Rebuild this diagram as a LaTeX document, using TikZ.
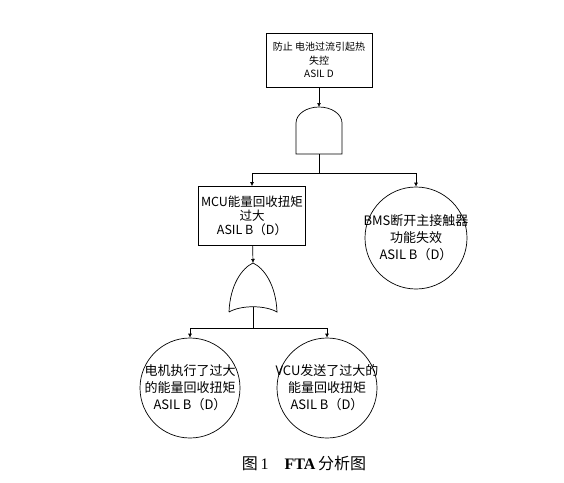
\documentclass[tikz,border=0pt]{standalone}
\usepackage{fontspec}
\setmainfont{Liberation Serif}
\newfontfamily\cjk{Noto Sans CJK SC}
\usetikzlibrary{positioning,arrows.meta}

\begin{document}
\begin{tikzpicture}[
x=1pt, y=-1pt, line width=0.7pt,
font=\cjk\fontsize{13}{17}\selectfont,
box/.style={draw, align=center, inner sep=2pt},
event/.style={draw, circle, minimum size=100pt, inner sep=0pt},
evtext/.style={align=center, inner sep=0pt},
arrow/.style={-{Latex[length=4pt,width=4pt]}}
]
\useasboundingbox (0,0) rectangle (564,482);
% top event
\node[box, minimum width=106pt, minimum height=54pt, font=\cjk\fontsize{10}{13.5}\selectfont] (top) at (319,60) {防止 电池过流引起热\\失控\\ASIL D};
% AND gate
\coordinate (andin) at (319,107);
\coordinate (andout) at (319,154);
\draw (296,154) -- (296,123) arc[start angle=180, end angle=360, x radius=23, y radius=16] -- (342,154) -- cycle;
% second level
\node[box, minimum width=107pt, minimum height=59pt, font=\cjk\fontsize{12.5}{14}\selectfont] (mcu) at (252,216) {MCU能量回收扭矩\\过大\\ASIL B（D）};
\node[event, minimum size=102pt, label={[evtext]center:BMS断开主接触器\\功能失效\\ASIL B（D）}] (bms) at (416,238) {};
% OR gate
\coordinate (orin) at (253,263);
\coordinate (orout) at (253,307);
\draw (229,312) .. controls (230,285) and (242,268) .. (orin) .. controls (264,268) and (276,285) .. (277,312) .. controls (265,305) and (241,305) .. (229,312);
% basic events
\node[event, label={[evtext]center:电机执行了过大\\的能量回收扭矩\\ASIL B（D）}] (motor) at (190,388) {};
\node[event, label={[evtext]center:VCU发送了过大的\\能量回收扭矩\\ASIL B（D）}] (vcu) at (327,388) {};
% connectors
\draw[arrow] (top) -- (andin);
\draw[arrow] (andout) -- ++(0,19) -| (mcu);
\draw[arrow] (andout) -- ++(0,19) -| (bms);
\draw[arrow] (mcu) -- (orin);
\draw[arrow] (orout) -- ++(0,21) -| (motor);
\draw[arrow] (orout) -- ++(0,21) -| (vcu);
% caption
\node[font=\rmfamily\fontsize{16}{19}\selectfont] (cap) at (304,463) {{\cjk 图}\,1\quad{\bfseries FTA}\,{\cjk 分析图}};
\end{tikzpicture}
\end{document}
